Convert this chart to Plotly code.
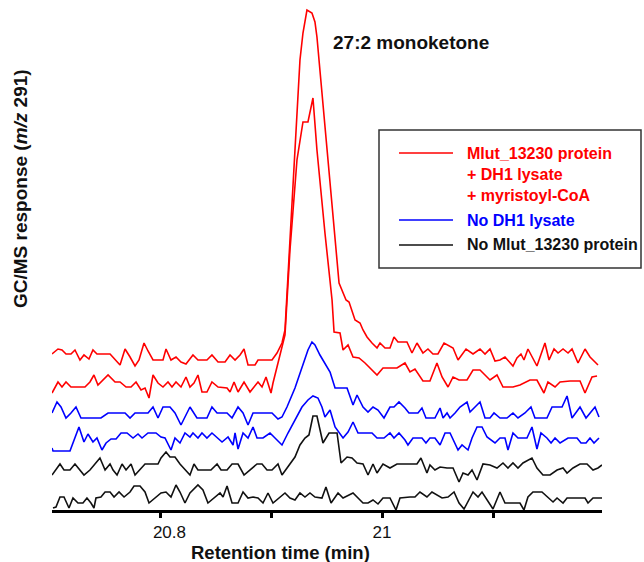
import plotly.graph_objects as go

# ---------------- data (retention time in min, stacked response, arbitrary units) ----------------
# Trace 1: Mlut_13230 protein + DH1 lysate + myristoyl-CoA (replicate 1)
t_red1 = [20.7027,20.7081,20.7117,20.7153,20.7198,20.7234,20.7279,20.7315,20.7360,20.7396,20.7432,20.7550,20.7640,20.7685,20.7730,20.7775,20.7811,20.7856,20.7892,20.7937,20.8027,20.8054,20.8099,20.8144,20.8189,20.8234,20.8297,20.8342,20.8423,20.8468,20.8523,20.8586,20.8631,20.8676,20.8721,20.8757,20.8793,20.8856,20.8883,20.9009,20.9054,20.9099,20.9126,20.9171,20.9225,20.9261,20.9288,20.9324,20.9369,20.9396,20.9414,20.9514,20.9613,20.9676,20.9703,20.9757,20.9802,20.9829,20.9865,20.9910,20.9955,20.9982,21.0027,21.0072,21.0108,21.0144,21.0225,21.0270,21.0315,21.0369,21.0414,21.0459,21.0504,21.0559,21.0640,21.0685,21.0757,21.0820,21.0883,21.0928,21.0973,21.1018,21.1063,21.1108,21.1180,21.1216,21.1252,21.1279,21.1315,21.1396,21.1468,21.1505,21.1550,21.1586,21.1631,21.1676,21.1712,21.1766,21.1829,21.1874,21.1946]
y_red1 = [156,161,160,156,156,160,150,155,151,160,156,156,145,161,153,144,150,167,159,150,150,161,150,153,148,146,155,150,150,155,148,148,155,150,155,161,145,145,150,150,157,167,180,270,370,450,477,500,497,488,473,350,227,210,208,190,187,180,173,167,162,167,162,162,173,168,168,157,167,157,161,156,156,167,162,150,161,156,161,156,161,149,150,153,144,152,156,150,161,144,167,150,161,157,161,157,161,147,161,153,145]

# Trace 2: Mlut_13230 protein + DH1 lysate + myristoyl-CoA (replicate 2)
t_red2 = [20.7027,20.7081,20.7117,20.7153,20.7198,20.7324,20.7369,20.7405,20.7441,20.7486,20.7532,20.7595,20.7640,20.7694,20.7739,20.7784,20.7829,20.7865,20.7901,20.7937,20.7982,20.8027,20.8072,20.8108,20.8144,20.8189,20.8234,20.8270,20.8306,20.8342,20.8378,20.8423,20.8468,20.8523,20.8604,20.8631,20.8667,20.8703,20.8757,20.8811,20.8838,20.8883,20.8919,20.8955,20.9000,20.9018,20.9063,20.9126,20.9171,20.9234,20.9288,20.9333,20.9378,20.9414,20.9486,20.9550,20.9568,20.9622,20.9649,20.9694,20.9739,20.9793,20.9847,20.9955,21.0009,21.0135,21.0207,21.0252,21.0297,21.0369,21.0432,21.0495,21.0541,21.0595,21.0640,21.0694,21.0766,21.0820,21.0883,21.0973,21.1036,21.1090,21.1180,21.1243,21.1333,21.1396,21.1459,21.1495,21.1559,21.1604,21.1694,21.1784,21.1829,21.1892,21.1937]
y_red2 = [117,128,123,128,123,123,128,135,125,130,135,128,128,123,123,128,120,122,112,135,127,123,128,123,128,123,133,123,127,135,118,118,128,123,122,118,128,118,128,118,122,128,123,133,117,127,147,175,260,350,388,388,412,360,277,210,178,177,160,165,153,152,147,135,142,142,147,138,141,129,129,147,133,123,133,130,130,140,140,130,135,123,123,125,130,130,117,128,123,128,129,129,117,133,134]

# Trace 3: No DH1 lysate (replicate 1)
t_blue1 = [20.7027,20.7072,20.7108,20.7153,20.7198,20.7243,20.7288,20.7468,20.7532,20.7685,20.7730,20.7775,20.7892,20.7937,20.7982,20.8027,20.8090,20.8135,20.8189,20.8234,20.8270,20.8333,20.8423,20.8468,20.8514,20.8604,20.8649,20.8703,20.8748,20.8793,20.8838,20.9009,20.9063,20.9099,20.9144,20.9216,20.9279,20.9333,20.9369,20.9396,20.9441,20.9486,20.9532,20.9577,20.9685,20.9739,20.9775,20.9829,20.9874,20.9919,20.9964,21.0018,21.0072,21.0108,21.0153,21.0207,21.0243,21.0324,21.0360,21.0396,21.0477,21.0523,21.0550,21.0586,21.0613,21.0658,21.0703,21.0766,21.0793,21.0838,21.0883,21.0928,21.0973,21.1009,21.1063,21.1126,21.1180,21.1225,21.1288,21.1342,21.1378,21.1486,21.1532,21.1622,21.1667,21.1712,21.1784,21.1838,21.1919,21.1955]
y_blue1 = [97,108,103,92,97,103,92,92,97,97,92,97,97,103,92,103,103,97,85,95,103,92,92,103,97,97,92,103,97,85,97,97,91,93,103,122,142,160,168,165,155,147,138,122,122,105,115,103,98,103,100,92,103,103,108,102,97,97,102,92,92,102,92,97,92,97,103,108,98,103,108,92,92,97,92,92,97,92,97,103,92,92,103,103,114,92,103,92,103,93]

# Trace 4: No DH1 lysate (replicate 2)
t_blue2 = [20.7027,20.7036,20.7189,20.7234,20.7270,20.7315,20.7351,20.7396,20.7432,20.7477,20.7514,20.7559,20.7604,20.7649,20.7703,20.7757,20.7802,20.7838,20.7892,20.7964,20.8009,20.8045,20.8099,20.8135,20.8180,20.8225,20.8270,20.8297,20.8342,20.8378,20.8423,20.8468,20.8514,20.8559,20.8613,20.8658,20.8676,20.8703,20.8748,20.8793,20.8838,20.8874,20.8928,20.8991,20.9036,20.9099,20.9153,20.9216,20.9279,20.9333,20.9378,20.9423,20.9459,20.9486,20.9532,20.9577,20.9649,20.9694,20.9739,20.9784,20.9910,20.9955,21.0018,21.0072,21.0108,21.0153,21.0207,21.0234,21.0279,21.0360,21.0396,21.0432,21.0477,21.0523,21.0568,21.0613,21.0658,21.0685,21.0721,21.0775,21.0811,21.0856,21.0901,21.0946,21.1018,21.1063,21.1108,21.1135,21.1180,21.1225,21.1306,21.1351,21.1396,21.1432,21.1486,21.1523,21.1559,21.1604,21.1676,21.1757,21.1793,21.1838,21.1874,21.1910,21.1955]
y_blue2 = [62,59,59,72,83,68,76,68,72,60,67,71,71,77,77,72,76,72,77,77,73,72,60,72,67,77,73,77,72,77,72,77,72,68,73,65,77,61,77,72,83,72,72,77,72,65,77,90,103,110,114,112,103,93,100,83,72,78,88,77,77,72,72,77,72,77,70,65,72,72,67,72,72,65,77,77,67,60,65,60,72,83,83,73,67,72,72,60,77,72,72,83,61,77,72,67,72,67,72,72,67,67,72,67,72]

# Trace 5: No Mlut_13230 protein (replicate 1)
t_black1 = [20.7027,20.7099,20.7135,20.7189,20.7234,20.7315,20.7369,20.7414,20.7459,20.7505,20.7550,20.7577,20.7613,20.7658,20.7694,20.7739,20.7775,20.7865,20.7982,20.8009,20.8054,20.8090,20.8135,20.8180,20.8225,20.8270,20.8306,20.8342,20.8459,20.8514,20.8550,20.8604,20.8649,20.8703,20.8757,20.8811,20.8874,20.8919,20.8964,20.9009,20.9063,20.9099,20.9153,20.9216,20.9261,20.9306,20.9342,20.9378,20.9414,20.9450,20.9468,20.9523,20.9595,20.9631,20.9685,20.9730,20.9775,20.9829,20.9874,20.9919,20.9955,21.0009,21.0072,21.0135,21.0315,21.0351,21.0405,21.0432,21.0477,21.0523,21.0586,21.0640,21.0694,21.0730,21.0775,21.0811,21.0856,21.0910,21.0973,21.1036,21.1090,21.1135,21.1180,21.1225,21.1270,21.1351,21.1396,21.1450,21.1514,21.1577,21.1631,21.1667,21.1721,21.1784,21.1847,21.1901,21.1946,21.1982]
y_black1 = [35,46,40,40,46,35,40,46,52,40,46,40,35,46,40,46,35,46,46,52,58,53,53,46,40,35,46,40,40,46,40,40,46,46,35,40,46,46,40,40,46,35,43,53,65,72,75,94,94,78,67,77,77,47,53,52,47,46,35,46,37,46,42,46,46,52,37,45,40,43,42,42,28,37,35,40,30,46,45,42,47,42,47,42,47,52,42,35,35,40,42,37,42,46,46,40,42,45]

# Trace 6: No Mlut_13230 protein (replicate 2)
t_black2 = [20.7036,20.7063,20.7099,20.7135,20.7180,20.7216,20.7261,20.7306,20.7342,20.7378,20.7405,20.7423,20.7468,20.7505,20.7550,20.7586,20.7631,20.7676,20.7730,20.7766,20.7820,20.7865,20.7901,20.7955,20.8009,20.8054,20.8099,20.8144,20.8180,20.8225,20.8270,20.8342,20.8387,20.8432,20.8495,20.8541,20.8568,20.8604,20.8649,20.8703,20.8748,20.8793,20.8838,20.8883,20.8928,20.8973,20.9018,20.9072,20.9126,20.9171,20.9216,20.9261,20.9306,20.9351,20.9396,20.9459,20.9495,20.9541,20.9604,20.9649,20.9739,20.9829,20.9874,20.9919,20.9964,21.0009,21.0072,21.0126,21.0162,21.0252,21.0297,21.0342,21.0405,21.0450,21.0541,21.0595,21.0649,21.0694,21.0739,21.0820,21.0865,21.0901,21.1000,21.1063,21.1108,21.1243,21.1279,21.1315,21.1360,21.1441,21.1541,21.1577,21.1631,21.1667,21.1829,21.1856,21.1901,21.1982]
y_black2 = [2,3,13,13,2,12,7,7,12,7,2,12,13,18,18,13,18,13,18,24,24,18,7,12,17,18,13,25,18,7,17,25,20,7,13,17,13,24,7,7,18,12,13,12,7,17,7,12,17,12,10,17,13,17,13,12,23,7,17,12,17,7,7,10,6,12,12,0,12,13,13,18,13,18,12,13,18,7,1,18,13,18,1,18,7,7,0,13,18,18,8,12,7,12,12,7,12,12]

x_tick_vals = [20.8, 20.9, 21.0, 21.1]
x_tick_text = ["\u00a0\u00a0\u00a0\u00a020.8", "", "21", ""]

legend_labels = ["Mlut_13230 protein<br>+ DH1 lysate<br>+ myristoyl-CoA",
                 "No DH1 lysate",
                 "No Mlut_13230 protein"]

# ---------------- style ----------------
RED = "#ff0000"
BLUE = "#0000ff"
BLACK = "#111111"
FONT = "Liberation Sans, Arial, Helvetica, sans-serif"

series = [
    (t_red1, y_red1, RED, legend_labels[0]),
    (t_red2, y_red2, RED, legend_labels[0]),
    (t_blue1, y_blue1, BLUE, legend_labels[1]),
    (t_blue2, y_blue2, BLUE, legend_labels[1]),
    (t_black1, y_black1, BLACK, legend_labels[2]),
    (t_black2, y_black2, BLACK, legend_labels[2]),
]

fig = go.Figure()
for t, y, c, name in series:
    fig.add_trace(go.Scatter(x=t, y=y, mode="lines", name=name.replace("<br>", " "),
                             line=dict(color=c, width=1.6), showlegend=False,
                             hoverinfo="x+y"))

# ---------------- layout ----------------
fig.update_layout(
    width=644, height=562,
    margin=dict(l=52, r=42, t=0, b=52),
    paper_bgcolor="white", plot_bgcolor="white",
    showlegend=False,
    font=dict(family=FONT, color="black"),
    xaxis=dict(range=[20.7027, 21.1982], showgrid=False, zeroline=False,
               showline=True, linecolor="black", linewidth=3,
               ticks="outside", ticklen=5, tickwidth=2.5, tickcolor="black",
               tickvals=x_tick_vals, ticktext=x_tick_text,
               tickfont=dict(size=17, family=FONT, color="#111")),
    yaxis=dict(range=[0, 510], visible=False, fixedrange=True),
)

# manual legend box (paper coords relative to plot area)
def px(xp):
    return (xp - 52) / 550.0

def py(yp):
    return (510 - yp) / 510.0

shapes = [
    dict(type="rect", xref="paper", yref="paper", x0=px(379), x1=px(641), y0=py(268), y1=py(130),
         line=dict(color="#333333", width=1.5), fillcolor="white", layer="above"),
    dict(type="line", xref="paper", yref="paper", x0=px(399), x1=px(453), y0=py(153), y1=py(153),
         line=dict(color=RED, width=1.6)),
    dict(type="line", xref="paper", yref="paper", x0=px(399), x1=px(453), y0=py(220), y1=py(220),
         line=dict(color=BLUE, width=1.6)),
    dict(type="line", xref="paper", yref="paper", x0=px(399), x1=px(453), y0=py(245), y1=py(245),
         line=dict(color=BLACK, width=1.6)),
]
fig.update_layout(shapes=shapes)

ann = [
    dict(text="<b>" + legend_labels[0].replace("<br>", "</b><br><b>") + "</b>", x=px(465), y=py(174),
         xanchor="left", yanchor="middle", align="left",
         font=dict(size=16, color=RED, family=FONT)),
    dict(text="<b>" + legend_labels[1] + "</b>", x=px(465), y=py(220), xanchor="left", yanchor="middle",
         font=dict(size=16, color=BLUE, family=FONT)),
    dict(text="<b>" + legend_labels[2] + "</b>", x=px(465), y=py(245), xanchor="left", yanchor="middle",
         font=dict(size=16, color=BLACK, family=FONT)),
    dict(text="<b>27:2 monoketone</b>", x=px(331), y=py(42), xanchor="left", yanchor="middle",
         font=dict(size=19, color="#111", family=FONT)),
    dict(text="<b>Retention time (min)</b>", x=px(280), y=py(552), xanchor="center", yanchor="middle",
         font=dict(size=18.5, color="#111", family=FONT)),
    dict(text="<b>GC/MS response (<i>m/z</i> 291)</b>", x=px(20), y=py(189), xanchor="center",
         yanchor="middle", textangle=-90,
         font=dict(size=19, color="#111", family=FONT)),
]
for a in ann:
    a.update(xref="paper", yref="paper", showarrow=False)
fig.update_layout(annotations=ann)

# the page's default 8px body margin would shift the 644x562 figure; remove it
fig.write_html("out.html",
               config={"displayModeBar": False},
               post_script="document.body.style.margin='0px';document.body.style.overflow='hidden';")
